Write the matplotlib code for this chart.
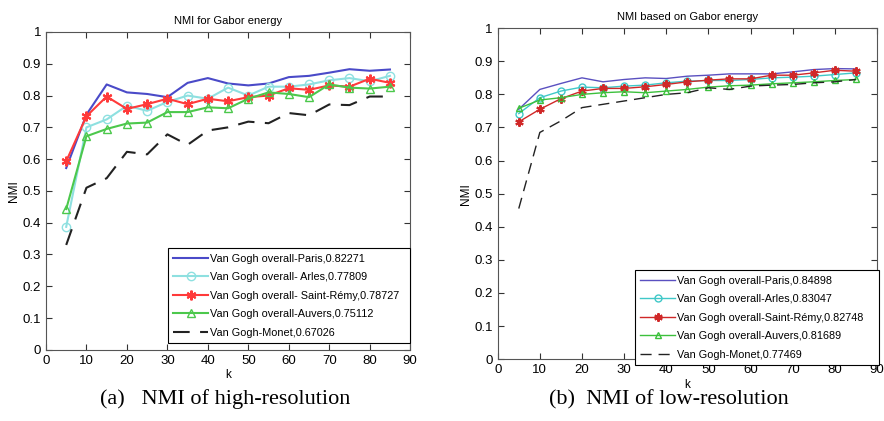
"""
NMI 对比图：高分辨率 / 低分辨率 (Gabor energy)
"""
import matplotlib

matplotlib.use("Agg")
import matplotlib.pyplot as plt

plt.rcParams["font.family"] = ["Liberation Sans", "DejaVu Sans"]

k = [5, 10, 15, 20, 25, 30, 35, 40, 45, 50, 55, 60, 65, 70, 75, 80, 85]

# (a) high-resolution
hi_paris = [0.572, 0.74, 0.835, 0.81, 0.805, 0.795, 0.84, 0.855, 0.838, 0.832, 0.838,
            0.858, 0.862, 0.872, 0.883, 0.878, 0.882]
hi_arles = [0.387, 0.70, 0.725, 0.768, 0.752, 0.78, 0.80, 0.79, 0.825, 0.80, 0.828,
            0.828, 0.835, 0.848, 0.855, 0.845, 0.862]
hi_remy = [0.593, 0.735, 0.797, 0.758, 0.773, 0.79, 0.773, 0.79, 0.782, 0.795, 0.80,
           0.823, 0.818, 0.832, 0.828, 0.853, 0.84]
hi_auvers = [0.443, 0.672, 0.695, 0.712, 0.715, 0.748, 0.748, 0.763, 0.76, 0.79, 0.81,
             0.805, 0.795, 0.835, 0.825, 0.822, 0.828]
hi_monet = [0.33, 0.51, 0.54, 0.623, 0.615, 0.678, 0.645, 0.69, 0.70, 0.718, 0.713,
            0.745, 0.738, 0.772, 0.77, 0.797, 0.797]
hi_labels = ["Van Gogh overall-Paris,0.82271",
             "Van Gogh overall- Arles,0.77809",
             "Van Gogh overall- Saint-Rémy,0.78727",
             "Van Gogh overall-Auvers,0.75112",
             "Van Gogh-Monet,0.67026"]

# (b) low-resolution
lo_paris = [0.755, 0.815, 0.833, 0.85, 0.838, 0.845, 0.85, 0.848, 0.855, 0.858, 0.862,
            0.862, 0.862, 0.868, 0.875, 0.878, 0.877]
lo_arles = [0.742, 0.79, 0.81, 0.822, 0.82, 0.825, 0.828, 0.835, 0.84, 0.842, 0.842,
            0.845, 0.85, 0.852, 0.855, 0.86, 0.865]
lo_remy = [0.717, 0.755, 0.787, 0.81, 0.818, 0.818, 0.823, 0.83, 0.838, 0.843, 0.847,
           0.847, 0.858, 0.858, 0.865, 0.873, 0.87]
lo_auvers = [0.758, 0.783, 0.79, 0.80, 0.805, 0.808, 0.805, 0.81, 0.815, 0.822, 0.826,
             0.828, 0.832, 0.835, 0.838, 0.842, 0.845]
lo_monet = [0.455, 0.685, 0.72, 0.76, 0.77, 0.78, 0.79, 0.80, 0.805, 0.82, 0.815,
            0.825, 0.828, 0.83, 0.835, 0.838, 0.845]
lo_labels = ["Van Gogh overall-Paris,0.84898",
             "Van Gogh overall-Arles,0.83047",
             "Van Gogh overall-Saint-Rémy,0.82748",
             "Van Gogh overall-Auvers,0.81689",
             "Van Gogh-Monet,0.77469"]


def draw_panel(ax, series, labels, cols, lw, ms, title, legend_box, legsize):
    styles = [
        dict(marker=None),
        dict(marker="o", mfc="none", ms=ms),
        dict(marker=(6, 2, 0), ms=ms + 1, mew=1.5),
        dict(marker="^", mfc="none", ms=ms),
        dict(marker=None, dashes=(8, 5)),
    ]
    for y, lab, c, st in zip(series, labels, cols, styles):
        ax.plot(k, y, color=c, lw=lw, label=lab, **st)
    ax.set_xlim(0, 90)
    ax.set_ylim(0, 1)
    ax.set_xticks(range(0, 91, 10))
    ax.set_yticks([i / 10 for i in range(11)])
    ax.set_yticklabels(["0"] + [f"{i / 10:.1f}" for i in range(1, 10)] + ["1"])
    ax.tick_params(direction="in", top=True, right=True, labelsize=9.5, length=4,
                   color="#333333")
    for sp in ax.spines.values():
        sp.set_color("#555555")
    ax.set_title(title, fontsize=8, pad=6)
    ax.set_xlabel("k", fontsize=8.5, labelpad=2)
    ax.set_ylabel("NMI", fontsize=8.5, labelpad=2)
    leg = ax.legend(loc="lower left", bbox_to_anchor=legend_box,
                    bbox_transform=ax.figure.transFigure, fontsize=legsize,
                    handlelength=3.2, handletextpad=0.15, labelspacing=0.78,
                    borderpad=0.5, borderaxespad=0, fancybox=False, framealpha=1,
                    edgecolor="black", mode="expand")
    leg.get_frame().set_linewidth(0.8)


fig = plt.figure(figsize=(8.84, 4.21), dpi=100)
ax1 = fig.add_axes([0.052, 0.169, 0.412, 0.755])
ax2 = fig.add_axes([0.563, 0.147, 0.429, 0.786])

draw_panel(ax1, [hi_paris, hi_arles, hi_remy, hi_auvers, hi_monet], hi_labels,
           ["#4a4ac8", "#8ee0e0", "#ff3a3a", "#4cc84c", "#222222"], 1.5, 6,
           "NMI for Gabor energy", (168 / 884, 78 / 421, 242 / 884, 92 / 421), 7.8)
draw_panel(ax2, [lo_paris, lo_arles, lo_remy, lo_auvers, lo_monet], lo_labels,
           ["#5a50c0", "#40c8c8", "#d02828", "#3cc03c", "#222222"], 1.0, 5,
           "NMI based on Gabor energy", (635 / 884, 56 / 421, 244 / 884, 96 / 421), 7.8)

fig.text(0.255, 0.04, "(a)   NMI of high-resolution", ha="center", fontsize=16,
         family="Liberation Serif")
fig.text(0.757, 0.04, "(b)  NMI of low-resolution", ha="center", fontsize=16,
         family="Liberation Serif")

fig.savefig("out.png", dpi=100)
